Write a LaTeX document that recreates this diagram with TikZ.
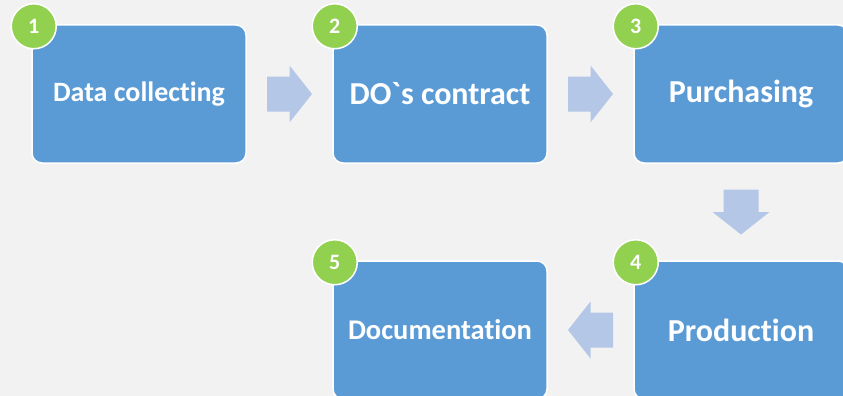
\documentclass[tikz,border=0pt]{standalone}
\usepackage{fontspec}
\newfontfamily\stepfont[Ligatures={TeXOff,NoCommon}]{Carlito}
\usetikzlibrary{calc}
\definecolor{bggray}{HTML}{F2F2F2}
\definecolor{boxblue}{HTML}{5B9BD5}
\definecolor{numgreen}{HTML}{92D050}
\definecolor{arrowblue}{HTML}{B4C7E7}

\begin{document}
\begin{tikzpicture}[x=1pt, y=-1pt,
  stepbox/.style={rectangle, rounded corners=10pt, fill=boxblue, draw=white, line width=1.5pt,
    minimum width=214pt, minimum height=138pt, inner sep=0pt, text=white,
    font=\stepfont\bfseries\fontsize{#1}{#1}\selectfont},
  badge/.style={circle, fill=numgreen, draw=white, line width=1.5pt, minimum size=45pt,
    inner sep=0pt, text=white, font=\stepfont\bfseries\fontsize{22}{22}\selectfont},
  flowarrow/.pic={\fill[arrowblue] (-22.5,-17.5) -- (0,-17.5) -- (0,-28.5) -- (22.5,0)
    -- (0,28.5) -- (0,17.5) -- (-22.5,17.5) -- cycle;}
]
%background
\fill[bggray] (0,0) rectangle (843,396);
\useasboundingbox (0,0) rectangle (843,396);
\clip (0,0) rectangle (843,396);

%top row
\node[stepbox=28] (collect) at (139,94) {Data collecting};
\node[stepbox=32] (contract) at (440,94) {DO`s contract};
\node[stepbox=32] (purchase) at (741,94) {Purchasing};

%bottom row
\node[stepbox=32] (produce) at (741,330) {Production};
\node[stepbox=28.5] (document) at (440,330) {Documentation};

%numbers
\node[badge] (n1) at ([shift={(2.5,2)}]collect.north west) {1};
\node[badge] (n2) at ([shift={(2.5,2)}]contract.north west) {2};
\node[badge] (n3) at ([shift={(2.5,2)}]purchase.north west) {3};
\node[badge] (n4) at ([shift={(2.5,2)}]produce.north west) {4};
\node[badge] (n5) at ([shift={(2.5,2)}]document.north west) {5};

%arrows
\foreach \a/\b/\r in {collect/contract/0, contract/purchase/0, purchase/produce/-90, produce/document/180}
  \pic[rotate=\r] at ($(\a)!0.5!(\b)$) {flowarrow};
\end{tikzpicture}
\end{document}
